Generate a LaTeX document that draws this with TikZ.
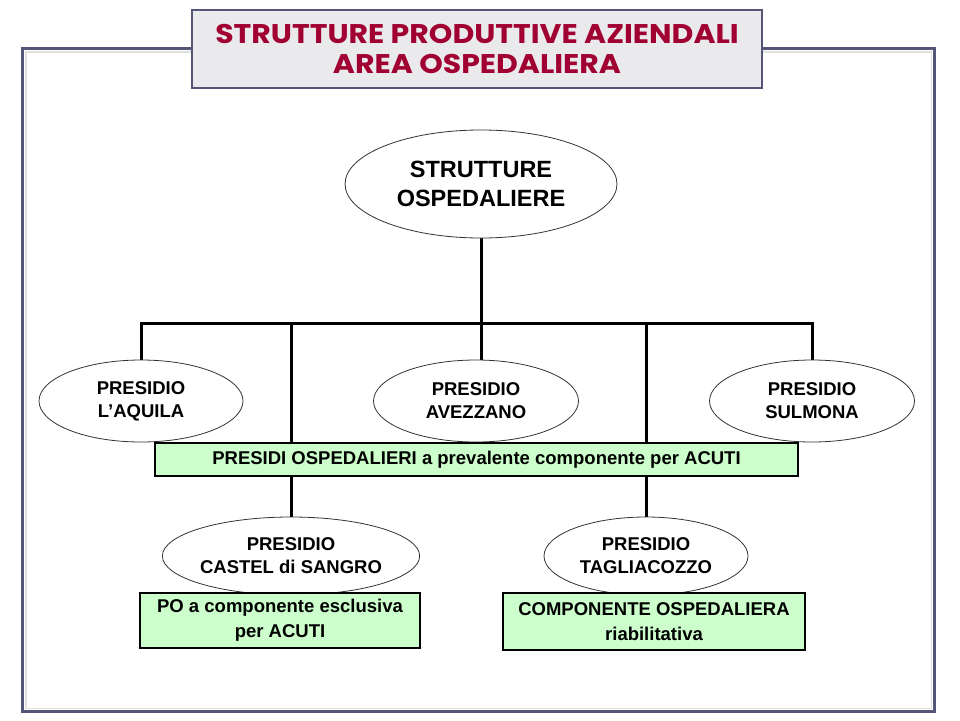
\documentclass[tikz,border=0pt]{standalone}
\usepackage{fontspec}
\setmainfont{Liberation Sans}
\newfontfamily\titlefont{Poppins}
\usetikzlibrary{shapes.geometric,backgrounds}
\definecolor{titlered}{RGB}{160,0,50}
\definecolor{boxgreen}{RGB}{204,255,204}
\definecolor{framegray}{RGB}{85,85,120}
\definecolor{titlefill}{RGB}{234,234,236}
\begin{document}
\begin{tikzpicture}[x=1pt,y=-1pt,
  oval/.style={ellipse,draw=black!80,line width=0.8pt,fill=white,inner sep=0pt,align=center,
    font=\fontsize{18.5}{23}\selectfont\bfseries},
  greenbox/.style={rectangle,draw=black,line width=1.2pt,fill=boxgreen,inner sep=0pt,align=center,
    font=\fontsize{18.5}{25}\selectfont\bfseries},
  link/.style={line width=3pt}]
\useasboundingbox (0,0) rectangle (960,720);
% title
\node[rectangle,draw=framegray,line width=2.5pt,fill=titlefill,minimum width=570,minimum height=78,
  inner sep=0pt] (title) at (477,49) {};
\node[inner sep=0pt,text=titlered] (titletext) at ([yshift=-3pt]title.center)
  {\scalebox{1.11}[1]{\titlefont\bfseries\fontsize{27}{30}\selectfont
    \begin{tabular}{@{}c@{}}STRUTTURE PRODUTTIVE AZIENDALI\\AREA OSPEDALIERA\end{tabular}}};
% nodes
\node[oval,minimum width=272,minimum height=108,font=\fontsize{23.5}{29}\selectfont\bfseries]
  (top) at (481,184) {STRUTTURE\\OSPEDALIERE};
\node[oval,minimum width=204,minimum height=82] (laq) at (141,401) {PRESIDIO\\L'AQUILA};
\node[oval,minimum width=205,minimum height=82] (avz) at (476,401) {PRESIDIO\\AVEZZANO};
\node[oval,minimum width=205,minimum height=82] (sul) at (812,401) {PRESIDIO\\SULMONA};
\node[greenbox,minimum width=643,minimum height=33] (bar) at (476.5,459.5)
  {PRESIDI OSPEDALIERI a prevalente componente per ACUTI};
\node[oval,minimum width=243,minimum height=78] (cds) at (291,556) {PRESIDIO\\CASTEL di SANGRO};
\node[oval,minimum width=204,minimum height=78] (tag) at (646,556) {PRESIDIO\\TAGLIACOZZO};
\node[greenbox,minimum width=280,minimum height=55] (box1) at (280,620.5)
  {PO a componente esclusiva\\per ACUTI};
\node[greenbox,minimum width=302,minimum height=57] (box2) at (654,621.5)
  {COMPONENTE OSPEDALIERA\\riabilitativa};
\coordinate (busL) at (141,323);
\begin{pgfonlayer}{background}
  \fill[white] (0,0) rectangle (960,720);
  \draw[black!12,line width=1.2pt] (26,52) rectangle (931.5,708.5);
  \draw[framegray,line width=3pt] (22.5,48) rectangle (934.5,711.5);
  \draw[link] (laq.north) -- (laq.north |- busL) -- (sul.north |- busL) -- (sul.north);
  \draw[link] (top.south) -- (top.south |- avz.north);
  \draw[link] (cds.north |- busL) -- (cds.north);
  \draw[link] (tag.north |- busL) -- (tag.north);
\end{pgfonlayer}
\end{tikzpicture}
\end{document}
